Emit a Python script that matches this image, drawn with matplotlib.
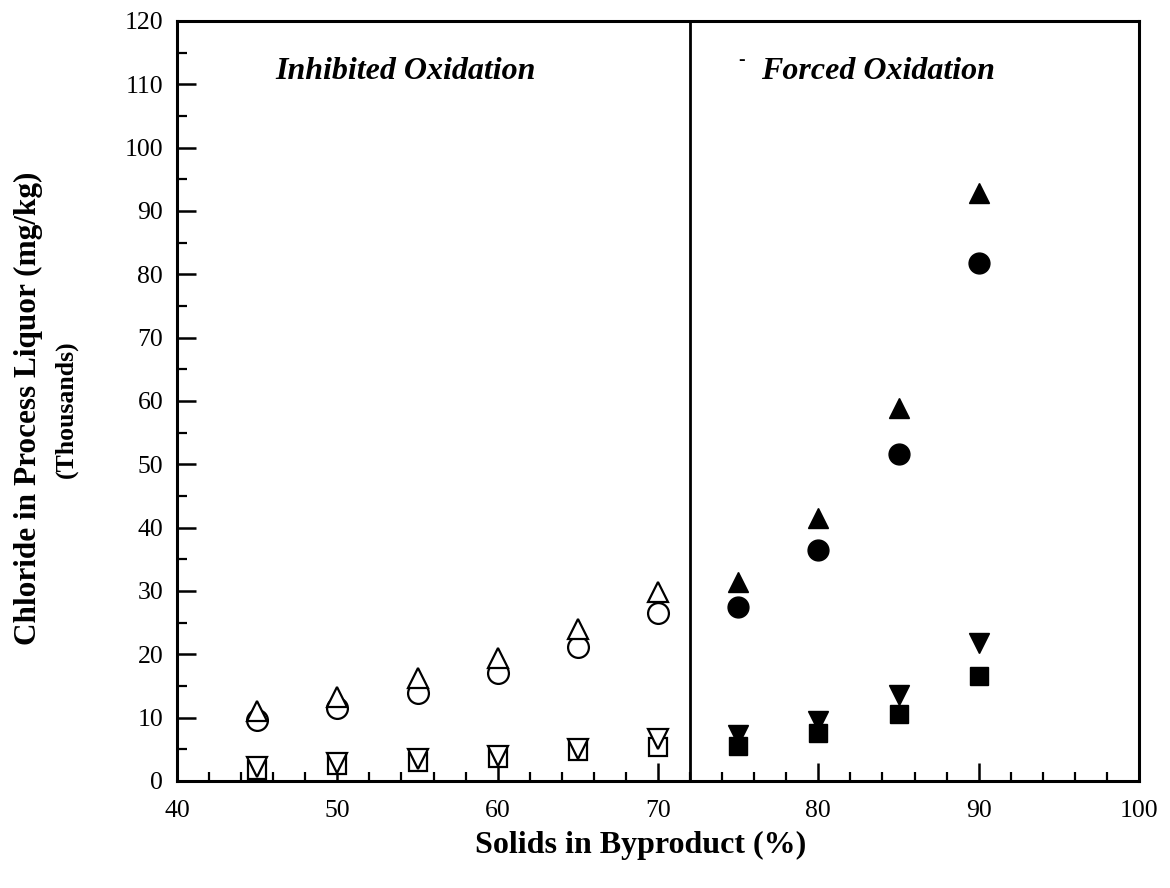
import matplotlib
matplotlib.use("Agg")
import matplotlib.pyplot as plt
from matplotlib.ticker import MultipleLocator

# ---- data (chloride, thousands mg/kg) ----
x_inhib = [45, 50, 55, 60, 65, 70]
inhib_tri_up = [11.1, 13.2, 16.2, 19.4, 24.0, 29.8]
inhib_circle = [9.6, 11.5, 13.9, 17.0, 21.1, 26.6]
inhib_tri_down = [2.2, 2.9, 3.4, 4.0, 5.1, 6.7]
inhib_square = [1.7, 2.5, 3.0, 3.7, 4.7, 5.4]

x_forced = [75, 80, 85, 90]
forced_tri_up = [31.4, 41.5, 58.9, 92.8]
forced_circle = [27.4, 36.5, 51.7, 81.8]
forced_tri_down = [7.2, 9.4, 13.6, 21.8]
forced_square = [5.6, 7.5, 10.5, 16.5]

divider_x = 72
x_ticks = [40, 50, 60, 70, 80, 90, 100]
y_ticks = [0, 10, 20, 30, 40, 50, 60, 70, 80, 90, 100, 110, 120]

serif = ["Liberation Serif", "DejaVu Serif"]
plt.rcParams["font.family"] = serif

fig = plt.figure(figsize=(11.7, 8.88), dpi=100)
ax = fig.add_axes([0.1513, 0.1205, 0.8222, 0.8559])

ax.set_xlim(40, 100)
ax.set_ylim(0, 120)

# open markers (inhibited oxidation)
kw_open = dict(linestyle="none", markerfacecolor="white", markeredgecolor="black",
               markeredgewidth=1.6, zorder=3)
ax.plot(x_inhib, inhib_circle, marker="o", markersize=15, **kw_open)
ax.plot(x_inhib, inhib_tri_up, marker="^", markersize=14, **kw_open)
ax.plot(x_inhib, inhib_square, marker="s", markersize=13.5, **kw_open)
ax.plot(x_inhib, inhib_tri_down, marker="v", markersize=14, **kw_open)

# filled markers (forced oxidation)
kw_fill = dict(linestyle="none", color="black", zorder=3)
ax.plot(x_forced, forced_circle, marker="o", markersize=15, **kw_fill)
ax.plot(x_forced, forced_tri_up, marker="^", markersize=14, **kw_fill)
ax.plot(x_forced, forced_square, marker="s", markersize=13.5, **kw_fill)
ax.plot(x_forced, forced_tri_down, marker="v", markersize=14, **kw_fill)

# divider
ax.axvline(divider_x, color="black", linewidth=2.0, zorder=2)

# spines
for s in ax.spines.values():
    s.set_linewidth(2.2)

# ticks
ax.set_xticks(x_ticks)
ax.set_yticks(y_ticks)
ax.xaxis.set_minor_locator(MultipleLocator(2))
ax.yaxis.set_minor_locator(MultipleLocator(5))
ax.tick_params(axis="both", which="both", direction="in", top=False, right=False)
ax.tick_params(axis="x", which="major", length=13, width=1.8, labelsize=18.5, pad=14)
ax.tick_params(axis="x", which="minor", length=6.5, width=1.6)
ax.tick_params(axis="y", which="major", length=14, width=1.8, labelsize=18.5, pad=10)
ax.tick_params(axis="y", which="minor", length=7, width=1.6)

# region titles
title_font = dict(fontsize=23, fontweight="bold", fontstyle="italic",
                  ha="center", va="center")
ax.text(54.25, 112.0, "Inhibited Oxidation", **title_font)
ax.text(83.75, 112.0, "Forced Oxidation", **title_font)
ax.text(75.2, 113.8, "-", fontsize=14, fontweight="bold", ha="center", va="center")

# axis labels
fig.text(641 / 1170, 1 - 845 / 888, "Solids in Byproduct (%)", fontsize=23,
         fontweight="bold", ha="center", va="center")
fig.text(28 / 1170, 1 - 408 / 888, "Chloride in Process Liquor (mg/kg)", fontsize=22.5,
         fontweight="bold", rotation=90, ha="center", va="center")
fig.text(66 / 1170, 1 - 409 / 888, "(Thousands)", fontsize=18.5,
         fontweight="bold", rotation=90, ha="center", va="center")

fig.savefig("out.png", dpi=100)
